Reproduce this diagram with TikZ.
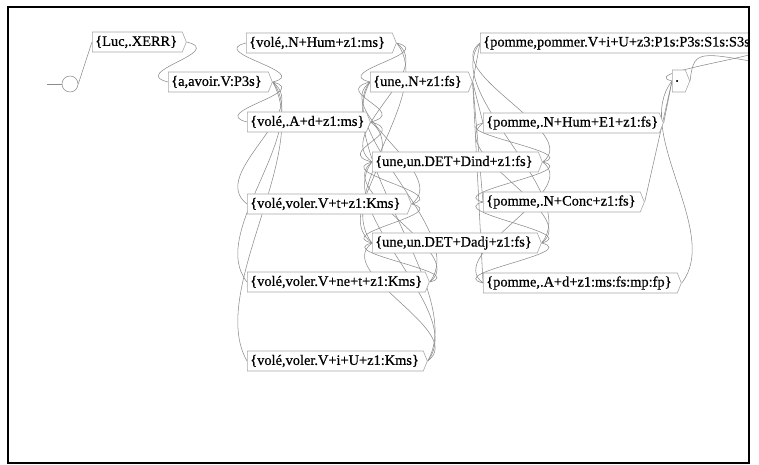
\documentclass[tikz,border=0pt]{standalone}
\usepackage{fontspec}
\setmainfont{Liberation Serif}
\newfontfamily\boxfont[FakeBold=0.6]{Liberation Serif}
\usetikzlibrary{shapes.symbols,calc}
\pgfdeclarelayer{edges}
\pgfsetlayers{edges,main}
\definecolor{boxgray}{HTML}{A8A8A8}
\definecolor{linegray}{HTML}{8C8C8C}
\begin{document}
\begin{tikzpicture}[x=1bp,y=-1bp,
  tbox/.style={draw=boxgray, fill=white, line width=0.6bp, signal, signal to=east,
    signal pointer angle=136, minimum height=20bp, inner xsep=3bp,
    inner ysep=0bp, anchor=west, text=black, align=left,
    font=\boxfont\fontsize{14.4bp}{16bp}\selectfont},
  tw/.style={text width=#1bp},
  tr/.style={draw=linegray, line width=0.55bp},
]
\useasboundingbox (0,0) rectangle (759,465);
% forward transition: gentle S-curve between output and input points
\newcommand\fw[2]{\draw[tr] (#1.east) .. controls ($(#1.east)!0.5!(#2.west)$ |- #1.east)
   and ($(#1.east)!0.5!(#2.west)$ |- #2.west) .. (#2.west);}
% backward transition: loop leaving to the right and entering from the left
\newcommand\bk[2]{\draw[tr] (#1.east) .. controls ($(#1.east)!0.25!(#1.east |- #2.west)+(40,0)$)
   and ($(#2.west)!0.25!(#2.west |- #1.east)+(-40,0)$) .. (#2.west);}
\begin{scope}
\clip (9,8) rectangle (748,462);
% initial state
\node[circle, draw=linegray, line width=0.55bp, minimum size=16bp, inner sep=0pt] (init) at (70,84) {};
\coordinate (initin) at (47,84);
% boxes
\node[tbox, tw=84]  (luc)   at (92,42)   {\{Luc,.XERR\}};
\node[tbox, tw=94]  (avoir) at (168,82)  {\{a,avoir.V:P3s\}};
\node[tbox, tw=140] (v1) at (246,43)  {\{volé,.N+Hum+z1:ms\}};
\node[tbox, tw=113] (v2) at (247,122) {\{volé,.A+d+z1:ms\}};
\node[tbox, tw=154] (v3) at (247,204) {\{volé,voler.V+t+z1:Kms\}};
\node[tbox, tw=172] (v4) at (247,282) {\{volé,voler.V+ne+t+z1:Kms\}};
\node[tbox, tw=170] (v5) at (247,361) {\{volé,voler.V+i+U+z1:Kms\}};
\node[tbox, tw=92]  (u1) at (370,82)  {\{une,.N+z1:fs\}};
\node[tbox, tw=160] (u2) at (372,162) {\{une,un.DET+Dind+z1:fs\}};
\node[tbox, tw=159] (u3) at (372,243) {\{une,un.DET+Dadj+z1:fs\}};
\node[tbox] (p1) at (480,43)  {\{pomme,pommer.V+i+U+z3:P1s:P3s:S1s:S3s\}};
\node[tbox, tw=170] (p2) at (483,123) {\{pomme,.N+Hum+E1+z1:fs\}};
\node[tbox, tw=151] (p3) at (483,202) {\{pomme,.N+Conc+z1:fs\}};
\node[tbox, tw=188] (p4) at (483,283) {\{pomme,.A+d+z1:ms:fs:mp:fp\}};
\node[tbox, tw=7, minimum height=22bp] (dot) at (672,81) {.};
\coordinate (fin) at (800,70);
\end{scope}
% transitions, kept under the boxes
\begin{pgfonlayer}{edges}
\begin{scope}
\clip (9,8) rectangle (748,462);
\draw[tr] (initin) -- (init.west);
\fw{init}{luc}
\bk{luc}{avoir}
\foreach \v in {v1,v2,v3,v4,v5} {\bk{avoir}{\v}}
\foreach \v in {v1,v2,v3,v4,v5} {\foreach \u in {u1,u2,u3} {\bk{\v}{\u}}}
\foreach \p in {p1,p2,p3,p4} {\fw{u1}{\p}}
\foreach \u in {u2,u3} {\foreach \p in {p1,p2,p3,p4} {\bk{\u}{\p}}}
\bk{p1}{dot}
\fw{p2}{dot}
\fw{p3}{dot}
\bk{p4}{dot}
\draw[tr] (dot.east) .. controls +(4,-36) and +(-100,-17) .. (fin);
\end{scope}
\end{pgfonlayer}
% frame
\draw[line width=2.4bp] (8,7) rectangle (749,463);
\end{tikzpicture}
\end{document}
